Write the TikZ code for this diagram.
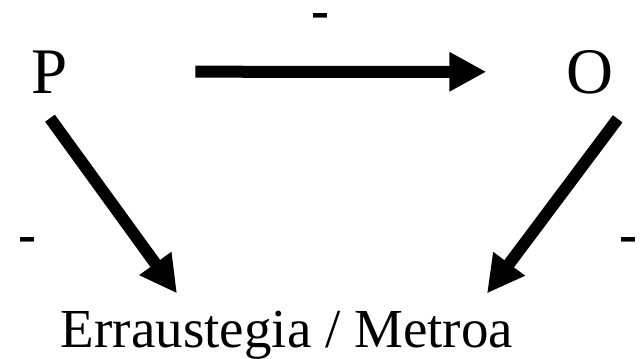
\documentclass[tikz,border=0pt]{standalone}
\usepackage{fontspec}
\setmainfont{Liberation Serif}
\usetikzlibrary{arrows.meta}
\begin{document}
\begin{tikzpicture}[x=1pt, y=-1pt,
  big/.style={font=\fontsize{65}{78}\selectfont, inner sep=0pt, anchor=base},
  sign/.style={font=\fontsize{54}{60}\selectfont\bfseries, inner sep=0pt},
  arr/.style={line width=12pt, -{Triangle[length=37pt,width=37pt]}}]
\useasboundingbox (0,0) rectangle (641,359);
\node (P) [big] at (50,93) {P};
\node (O) [big] at (590,93) {O};
\node (em) [anchor=base, inner sep=0pt, font=\fontsize{55}{66}\selectfont] at (287,347) {Erraustegia / Metroa};
\node (s1) [sign] at (320,21) {-};
\node (s2) [sign] at (27,244.5) {-};
\node (s3) [sign] at (628,244.5) {-};
% arrow ends just above the bottom label
\coordinate (inL) at ([xshift=-110pt, yshift=17pt]em.north);
\coordinate (inR) at ([xshift=200pt, yshift=17pt]em.north);
\draw [arr, shorten <=127pt, shorten >=80pt] (P.east) -- (O.west);
\draw [arr] ([yshift=-25pt]P.south) -- (inL);
\draw [arr] ([shift={(4pt,-25pt)}]O.south east) -- (inR);
\end{tikzpicture}
\end{document}
